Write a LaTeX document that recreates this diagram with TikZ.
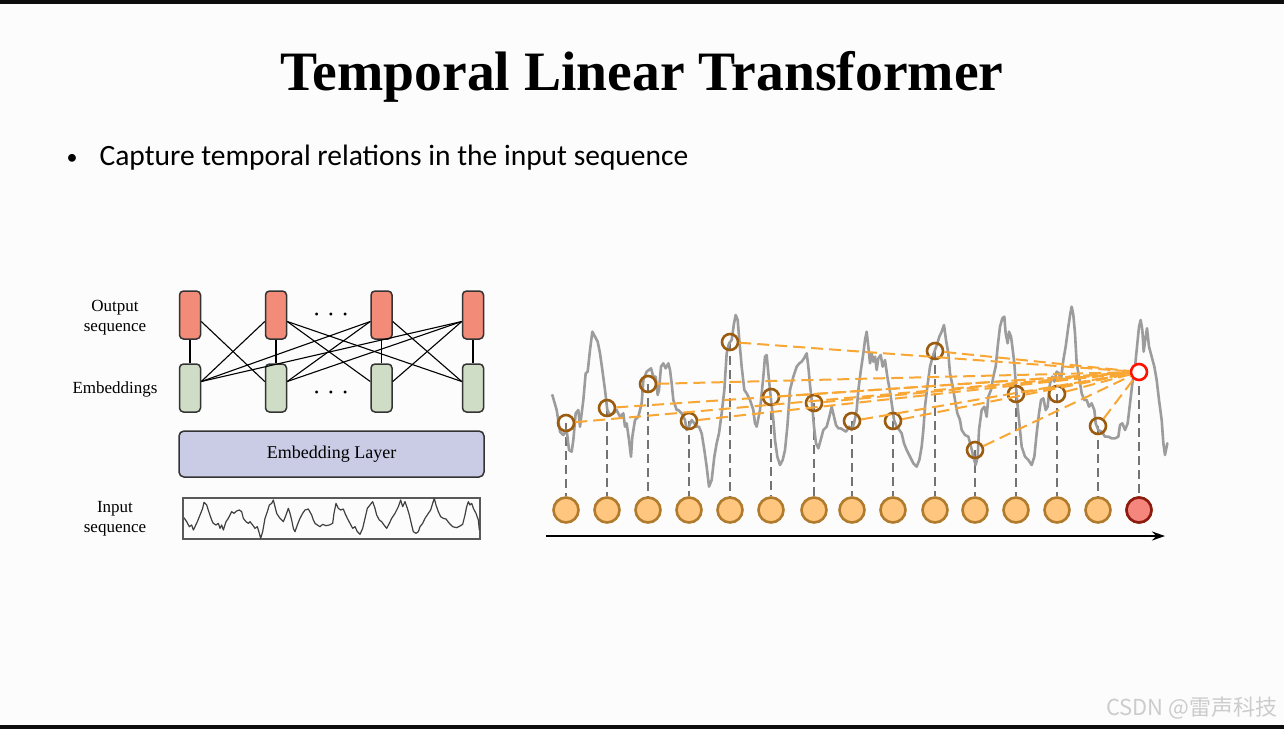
\documentclass[tikz,border=0pt]{standalone}
\usepackage{fontspec}
\setmainfont{Liberation Serif}
\newfontfamily\slidefont{Carlito}
\newfontfamily\cjkfont{Noto Sans CJK SC}
\usetikzlibrary{arrows.meta, positioning}

\definecolor{outred}{HTML}{F28B78}
\definecolor{embgreen}{HTML}{CFDDC6}
\definecolor{layerblue}{HTML}{C9CCE4}
\definecolor{siggray}{HTML}{9C9C9C}
\definecolor{attnorange}{HTML}{F8A634}
\definecolor{stepbrown}{HTML}{9B5C10}
\definecolor{stepfill}{HTML}{FEC67E}
\definecolor{stepline}{HTML}{B07B2C}
\definecolor{queryfill}{HTML}{F4867E}
\definecolor{queryline}{HTML}{8E1B12}

\begin{document}
\begin{tikzpicture}[x=1pt, y=-1pt,
    outbox/.style={rectangle, rounded corners=4pt, draw=black!80, line width=1.5pt, fill=outred, minimum width=21pt, minimum height=48pt, inner sep=0pt},
    embbox/.style={outbox, fill=embgreen},
    label/.style={font=\fontsize{17}{20}\selectfont, align=center},
    link/.style={draw=black, line width=1.1pt},
    signal/.style={draw=siggray, line width=2.6pt, line join=round, line cap=round},
    wave/.style={draw=black!75, line width=1.2pt, line join=round},
    obs/.style={circle, draw=stepbrown, line width=2.6pt, minimum size=16pt, inner sep=0pt},
    query/.style={obs, draw=red!85!orange, fill=white},
    tstep/.style={circle, draw=stepline, line width=2.6pt, fill=stepfill, minimum size=25pt, inner sep=0pt},
    vdash/.style={draw=black!55, line width=1.8pt, dash pattern=on 9pt off 5pt},
    attn/.style={draw=attnorange, line width=2pt, dash pattern=on 12pt off 6pt},
    >={Stealth[length=13pt, width=9pt]}
]
\useasboundingbox (0,0) rectangle (1284,729);
\fill[white!99!black] (0,0) rectangle (1284,729);

% Slide frame
\fill[black!95] (0,0) rectangle (1284,4);
\fill[black!95] (0,725) rectangle (1284,729);

% Title and bullet
\node[anchor=base, font=\fontsize{55.6}{60}\selectfont\bfseries] (title) at (642,90) {Temporal Linear Transformer};
\node[anchor=base west, font=\slidefont\fontsize{29.5}{32}\selectfont] (bullet) at (96,165) {Capture temporal relations in the input sequence};
\node[anchor=base, font=\slidefont\fontsize{22}{24}\selectfont] (dot) at (72,164) {\textbullet};

% Left: architecture
\node[label] (outlab) at (115,318) {Output\\sequence};
\node[label] (emblab) at (115,389) {Embeddings};
\node[label] (inlab) at (115,519) {Input\\sequence};

\foreach \x [count=\i] in {190,276,381.5,473}{
  \node[outbox] (o\i) at (\x,315) {};
  \node[embbox] (e\i) at (\x,388) {};
}
\node[font=\fontsize{12}{12}\selectfont] (dtop) at (331,316) {\textbullet\hspace{10pt}\textbullet\hspace{10pt}\textbullet};
\node[font=\fontsize{12}{12}\selectfont] (dbot) at (331,394) {\textbullet\hspace{10pt}\textbullet\hspace{10pt}\textbullet};

% Output to embedding links
\foreach \i in {1,...,4}
  \draw[link] (o\i) -- (e\i);
\foreach \i/\j in {1/2, 2/3, 2/4, 3/4}
  \draw[link] (o\i.-30) -- (e\j.150);
\foreach \i/\j in {2/1, 3/1, 3/2, 4/1, 4/2, 4/3}
  \draw[link] (o\i.210) -- (e\j.30);

\node[rectangle, rounded corners=5pt, draw=black!80, line width=1.5pt, fill=layerblue, minimum width=305pt, minimum height=46pt, font=\fontsize{18}{20}\selectfont] (layer) at (331.5,454) {Embedding Layer};

\node[rectangle, draw=black!65, line width=1.2pt, minimum width=297pt, minimum height=41pt] (inbox) at (331.5,518.5) {};
\begin{scope}[shift={(180,495)}, scale=1/3]
\draw[wave] plot coordinates {(12,68) (20,80) (28,95) (35,90) (40,105) (45,95) (52,80) (60,60) (68,40) (72,22) (80,30) (88,55) (95,75) (100,85) (108,90) (115,85) (120,100) (125,90) (130,105) (138,80) (145,70) (150,60) (155,50) (162,55) (170,48) (178,45) (185,50) (190,70) (198,80) (205,85) (210,80) (218,90) (225,100) (232,95) (238,115) (242,130) (248,110) (255,70) (262,50) (268,30) (275,25) (280,15) (285,35) (290,55) (300,70) (310,80) (318,60) (325,40) (330,55) (335,75) (340,100) (345,110) (352,90) (360,70) (368,55) (375,45) (385,42) (395,60) (400,75) (405,85) (412,90) (420,95) (428,88) (438,92) (448,90) (458,85) (462,55) (468,25) (475,40) (482,45) (490,42) (495,55) (502,70) (510,85) (518,100) (525,95) (532,110) (540,118) (548,100) (555,70) (562,40) (570,30) (578,20) (585,40) (590,60) (598,75) (605,80) (612,90) (620,100) (628,85) (635,70) (645,55) (655,35) (662,15) (668,35) (675,20) (682,40) (688,60) (695,90) (700,110) (708,115) (715,110) (720,95) (728,85) (735,70) (745,55) (752,45) (758,25) (763,10) (768,30) (775,50) (782,65) (790,70) (798,72) (808,85) (818,95) (830,98) (840,93) (848,88) (855,60) (860,35) (865,20) (870,30) (875,25) (880,40) (888,55) (895,75) (898,105)};
\end{scope}

% Right: attention over time steps
\foreach \x/\y [count=\i] in {566/423, 607/408, 648/384, 689/421, 730/342, 771/397, 814/403, 852/421, 893/421, 935/351, 975/450, 1016/394, 1057/394, 1098/426, 1139/372}{
  \coordinate (p\i) at (\x,\y);
  \node[tstep] (t\i) at (\x,510) {};
}
\node[tstep, draw=queryline, fill=queryfill] at (t15) {};

\foreach \i in {1,...,15}
  \draw[vdash] (p\i) -- (t\i);

\begin{scope}[shift={(545,300)}, scale=1/3]
\draw[signal] plot coordinates {(22,285) (35,330) (45,395) (55,405) (65,390) (72,450) (80,455) (85,420) (92,340) (100,330) (105,380) (115,300) (122,220) (128,215) (135,150) (142,95) (150,110) (158,125) (165,160) (172,210) (180,270) (187,330) (195,345) (205,340) (215,330) (225,350) (235,340) (240,380) (245,370) (252,420) (258,470) (262,410) (270,360) (280,350) (290,310) (295,240) (305,215) (318,205) (325,230) (332,230) (338,285) (342,270) (348,200) (355,190) (362,205) (370,190) (375,210) (380,250) (385,300) (395,330) (400,330) (410,340) (420,360) (425,390) (432,380) (440,360) (448,370) (455,380) (462,380) (470,400) (478,450) (485,500) (492,560) (500,540) (508,470) (515,430) (522,400) (530,340) (538,270) (545,160) (552,130) (560,120) (567,70) (572,45) (578,60) (583,120) (590,200) (598,270) (605,280) (615,300) (625,330) (630,370)};
\end{scope}
\begin{scope}[shift={(750,300)}, scale=1/3]
\draw[signal] plot coordinates {(15,370) (20,380) (30,330) (40,230) (45,170) (50,165) (55,220) (62,290) (70,360) (75,420) (82,470) (90,495) (98,480) (105,450) (112,380) (120,270) (130,230) (140,200) (148,190) (155,185) (162,175) (170,160) (175,200) (180,255) (185,300) (192,380) (198,430) (205,445) (212,420) (220,390) (230,380) (238,350) (245,320) (252,350) (258,375) (265,385) (272,385) (280,390) (288,395) (298,380) (305,390) (312,370) (320,330) (325,270) (332,215) (340,160) (345,120) (350,95) (355,140) (360,190) (365,160) (370,185) (375,170) (380,210) (385,175) (392,165) (398,200) (405,180) (412,230) (420,275) (428,330) (432,360) (440,380) (448,390) (455,400) (462,430) (470,450) (480,470) (490,490) (500,500) (508,480) (515,440) (520,390) (525,320) (532,260) (540,200) (548,170) (555,150) (562,130) (568,110) (575,95) (582,75) (588,120) (595,160) (600,220) (608,260) (615,300) (622,340) (630,360)};
\end{scope}
\begin{scope}[shift={(955,300)}, scale=1/3]
\draw[signal] plot coordinates {(15,360) (20,390) (30,405) (40,410) (48,440) (55,470) (62,495) (68,470) (72,390) (80,330) (88,320) (95,350) (100,290) (108,270) (115,230) (122,200) (128,140) (135,80) (142,55) (148,50) (152,100) (158,130) (162,95) (168,110) (172,140) (178,190) (182,250) (188,320) (195,390) (200,440) (210,470) (220,480) (230,495) (238,470) (245,400) (252,340) (258,300) (265,295) (272,330) (278,320) (285,250) (292,230) (298,245) (305,215) (312,220) (318,240) (325,180) (332,140) (340,80) (346,40) (350,20) (355,45) (360,100) (365,190) (372,230) (380,280) (388,300) (395,300) (402,320) (410,310) (418,330) (422,370) (430,390) (440,395) (450,410) (460,410) (470,415) (480,415) (490,410) (495,375) (502,370) (510,390) (518,370) (525,310) (532,250) (540,200) (548,120) (552,80) (557,60) (562,90) (566,155) (572,110) (576,85) (582,140) (590,170) (598,200) (605,240) (612,300) (620,360) (625,430) (630,465) (637,430)};
\end{scope}

\foreach \i in {1,...,14}
  \node[obs] (s\i) at (p\i) {};
\node[query] (s15) at (p15) {};
\foreach \i in {1,...,14}
  \draw[attn] (s\i) -- (s15);

% Time axis
\coordinate (tstart) at (546,536);
\coordinate (tend) at (1165,536);
\draw[->, line width=2.2pt] (tstart) -- (tend);

% Watermark
\node[anchor=east, font=\cjkfont\fontsize{22}{24}\selectfont, text=black!20] (mark) at (1281,708) {CSDN @雷声科技};
\end{tikzpicture}
\end{document}
